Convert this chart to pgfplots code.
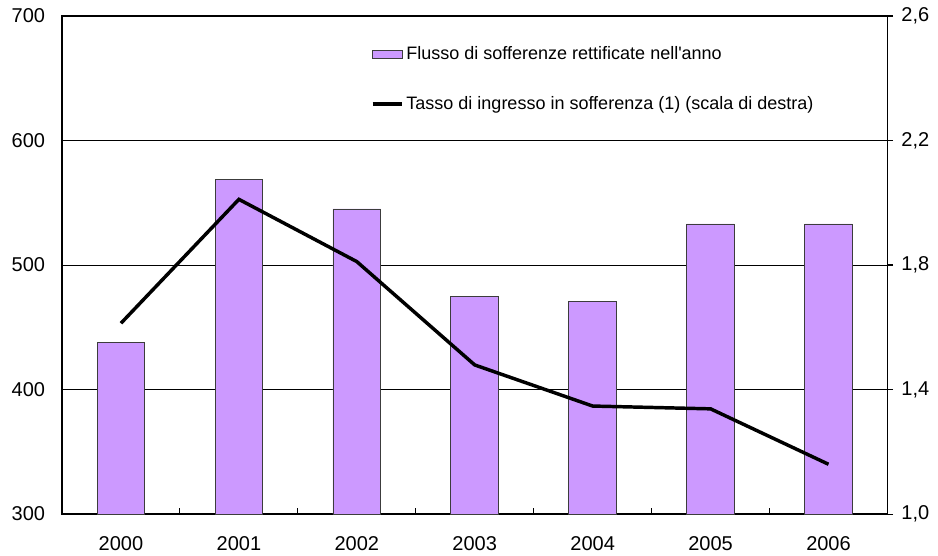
\documentclass[border=0pt]{standalone}
\usepackage{fontspec}
\setmainfont{Liberation Sans}
\usepackage{pgfplots}
\pgfplotsset{compat=1.18}
\definecolor{barcol}{RGB}{204,153,255}
\definecolor{baredge}{RGB}{60,60,60}

\begin{document}
\begin{tikzpicture}
\begin{axis}[
    name=main,
    scale only axis,
    width=619pt, height=373.5pt,
    xmin=-0.5, xmax=6.5,
    ymin=300, ymax=700,
    xtick={0,...,6},
    xticklabels={2000,2001,2002,2003,2004,2005,2006},
    minor xtick={0.5,1.5,...,5.5},
    ytick={300,400,500,600,700},
    xtick pos=bottom, ytick pos=left,
    tick align=inside,
    major tick length=0pt, minor tick length=4.5pt,
    ymajorgrids,
    grid style={black, line width=0.6pt},
    axis line style={black, line width=0.9pt},
    minor tick style={black, line width=0.8pt},
    /pgf/number format/assume math mode=true,
    tick label style={font=\fontsize{15}{17}\selectfont},
    yticklabel style={inner sep=0pt, xshift=-12.5pt},
    xticklabel style={inner sep=0pt, yshift=-17pt},
]
\addplot[ybar, bar width=0.405, fill=barcol, draw=baredge, line width=0.6pt] coordinates {
    (0,438) (1,569) (2,545) (3,475) (4,471) (5,533) (6,533)
};
\end{axis}
\begin{axis}[
    scale only axis,
    width=619pt, height=373.5pt,
    xmin=-0.5, xmax=6.5,
    ymin=1, ymax=2.6,
    axis x line=none,
    axis y line*=right,
    ytick={1,1.4,1.8,2.2,2.6},
    tick align=outside,
    major tick length=4.3pt,
    axis line style={black, line width=0.9pt},
    major tick style={black, line width=0.8pt},
    /pgf/number format/.cd, use comma, fixed, fixed zerofill, precision=1, assume math mode=true,
    /pgfplots/.cd,
    tick label style={font=\fontsize{15}{17}\selectfont},
    yticklabel style={inner sep=0pt, xshift=6pt},
    legend style={draw=none, fill=none, at={(0.374,0.944)}, anchor=north west,
        font=\fontsize{13.5}{15}\selectfont, row sep=22pt, inner sep=0pt},
    legend cell align=left,
]
\addlegendimage{legend image code/.code={\draw[fill=barcol, draw=baredge, line width=0.6pt] (0pt,-3.3pt) rectangle (22pt,3.3pt);}}
\addlegendentry{Flusso di sofferenze rettificate nell\textquotesingle anno}
\addplot[black, line width=2.6pt, legend image code/.code={\draw[black, line width=2.6pt] (0pt,0pt) -- (22pt,0pt);}] coordinates {
    (0,1.613) (1,2.011) (2,1.811) (3,1.479) (4,1.347) (5,1.338) (6,1.160)
};
\addlegendentry{Tasso di ingresso in sofferenza (1) (scala di destra)}
\end{axis}
\pgfresetboundingbox
\path ([shift={(-46.5pt,-30.75pt)}]main.south west) rectangle ([shift={(37.9pt,12pt)}]main.north east);
\end{tikzpicture}
\end{document}
